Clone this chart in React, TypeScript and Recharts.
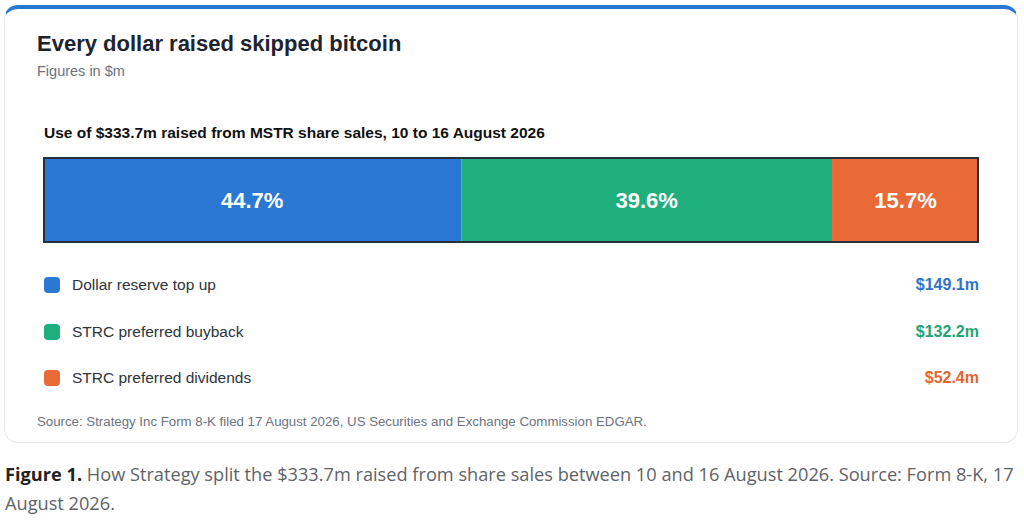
import { BarChart, Bar, XAxis, YAxis, LabelList } from "recharts";

const SEGMENT_KEYS = ["reserve", "buyback", "dividends"];
const SEGMENT_LABELS = [
  "Dollar reserve top up",
  "STRC preferred buyback",
  "STRC preferred dividends",
];
const SEGMENT_VALUES = [149.1, 132.2, 52.4]; // $m

const BAR_COLORS = ["#2b77d4", "#1faf7c", "#e96a37"];
const VALUE_COLORS = ["#2e73cc", "#1fa472", "#e2662f"];

const TOTAL = SEGMENT_VALUES.reduce((a, b) => a + b, 0);

const chartData = [
  SEGMENT_KEYS.reduce<Record<string, number | string>>(
    (row, key, i) => {
      row[key] = SEGMENT_VALUES[i];
      return row;
    },
    { name: "uses" }
  ),
];

const ARIAL = '"Liberation Sans", Arial, sans-serif';

const pct = (v: unknown) => `${((Number(v) / TOTAL) * 100).toFixed(1)}%`;

export default function App() {
  return (
    <div
      style={{
        position: "absolute",
        left: 0,
        top: 0,
        width: 1024,
        height: 531,
        background: "#fff",
        overflow: "hidden",
        fontFamily: ARIAL,
      }}
    >
      {/* card */}
      <div
        style={{
          position: "absolute",
          left: 4,
          top: 5,
          width: 1014,
          height: 438,
          boxSizing: "border-box",
          border: "1px solid #e6e8eb",
          borderTop: "4px solid #2b77d4",
          borderRadius: 14,
        }}
      />
      <div
        style={{
          position: "absolute",
          left: 37,
          top: 31,
          fontSize: 22,
          lineHeight: "26px",
          fontWeight: 700,
          color: "#1d2430",
          whiteSpace: "nowrap",
        }}
      >
        Every dollar raised skipped bitcoin
      </div>
      <div
        style={{
          position: "absolute",
          left: 37,
          top: 63,
          fontSize: 14.5,
          lineHeight: "16px",
          color: "#6b7280",
          whiteSpace: "nowrap",
        }}
      >
        Figures in $m
      </div>
      <div
        style={{
          position: "absolute",
          left: 44,
          top: 124,
          fontSize: 15.5,
          lineHeight: "18px",
          fontWeight: 700,
          color: "#111",
          whiteSpace: "nowrap",
        }}
      >
        Use of $333.7m raised from MSTR share sales, 10 to 16 August 2026
      </div>

      {/* stacked bar */}
      <div style={{ position: "absolute", left: 43, top: 157 }}>
        <BarChart
          width={936}
          height={86}
          data={chartData}
          layout="vertical"
          margin={{ top: 0, right: 0, bottom: 0, left: 0 }}
          barCategoryGap={0}
        >
          <XAxis type="number" domain={[0, TOTAL]} hide />
          <YAxis type="category" dataKey="name" hide />
          {SEGMENT_KEYS.map((key, i) => (
            <Bar
              key={key}
              dataKey={key}
              stackId="uses"
              fill={BAR_COLORS[i]}
              isAnimationActive={false}
            >
              <LabelList
                dataKey={key}
                position="center"
                formatter={pct}
                fill="#ffffff"
                fontSize={22}
                fontWeight={700}
                fontFamily={ARIAL}
              />
            </Bar>
          ))}
        </BarChart>
        <div
          style={{
            position: "absolute",
            left: 0,
            top: 0,
            width: 936,
            height: 86,
            boxSizing: "border-box",
            border: "2px solid #26303c",
            pointerEvents: "none",
          }}
        />
      </div>

      {/* legend rows */}
      {SEGMENT_LABELS.map((label, i) => {
        const cy = 285 + i * 46.5;
        return (
          <div key={label}>
            <div
              style={{
                position: "absolute",
                left: 44,
                top: cy - 8,
                width: 16,
                height: 16,
                borderRadius: 4,
                background: BAR_COLORS[i],
              }}
            />
            <div
              style={{
                position: "absolute",
                left: 72,
                top: cy - 9,
                fontSize: 15.5,
                lineHeight: "18px",
                color: "#2d333b",
                whiteSpace: "nowrap",
              }}
            >
              {label}
            </div>
            <div
              style={{
                position: "absolute",
                right: 1024 - 979,
                top: cy - 9,
                fontSize: 16,
                lineHeight: "18px",
                fontWeight: 700,
                color: VALUE_COLORS[i],
                whiteSpace: "nowrap",
              }}
            >
              ${SEGMENT_VALUES[i].toFixed(1)}m
            </div>
          </div>
        );
      })}

      <div
        style={{
          position: "absolute",
          left: 37,
          top: 414,
          fontSize: 13.25,
          lineHeight: "16px",
          color: "#6b7280",
          whiteSpace: "nowrap",
        }}
      >
        Source: Strategy Inc Form 8-K filed 17 August 2026, US Securities and
        Exchange Commission EDGAR.
      </div>

      {/* caption */}
      <div
        style={{
          position: "absolute",
          left: 5,
          top: 460,
          width: 1015,
          fontFamily: '"Open Sans", "Noto Sans", sans-serif',
          fontSize: 18.2,
          lineHeight: "29px",
          color: "#5f6368",
        }}
      >
        <div style={{ whiteSpace: "nowrap" }}>
          <span style={{ fontWeight: 700, color: "#222" }}>Figure 1.</span> How
          Strategy split the $333.7m raised from share sales between 10 and 16
          August 2026. Source: Form 8-K, 17
        </div>
        <div>August 2026.</div>
      </div>
    </div>
  );
}
